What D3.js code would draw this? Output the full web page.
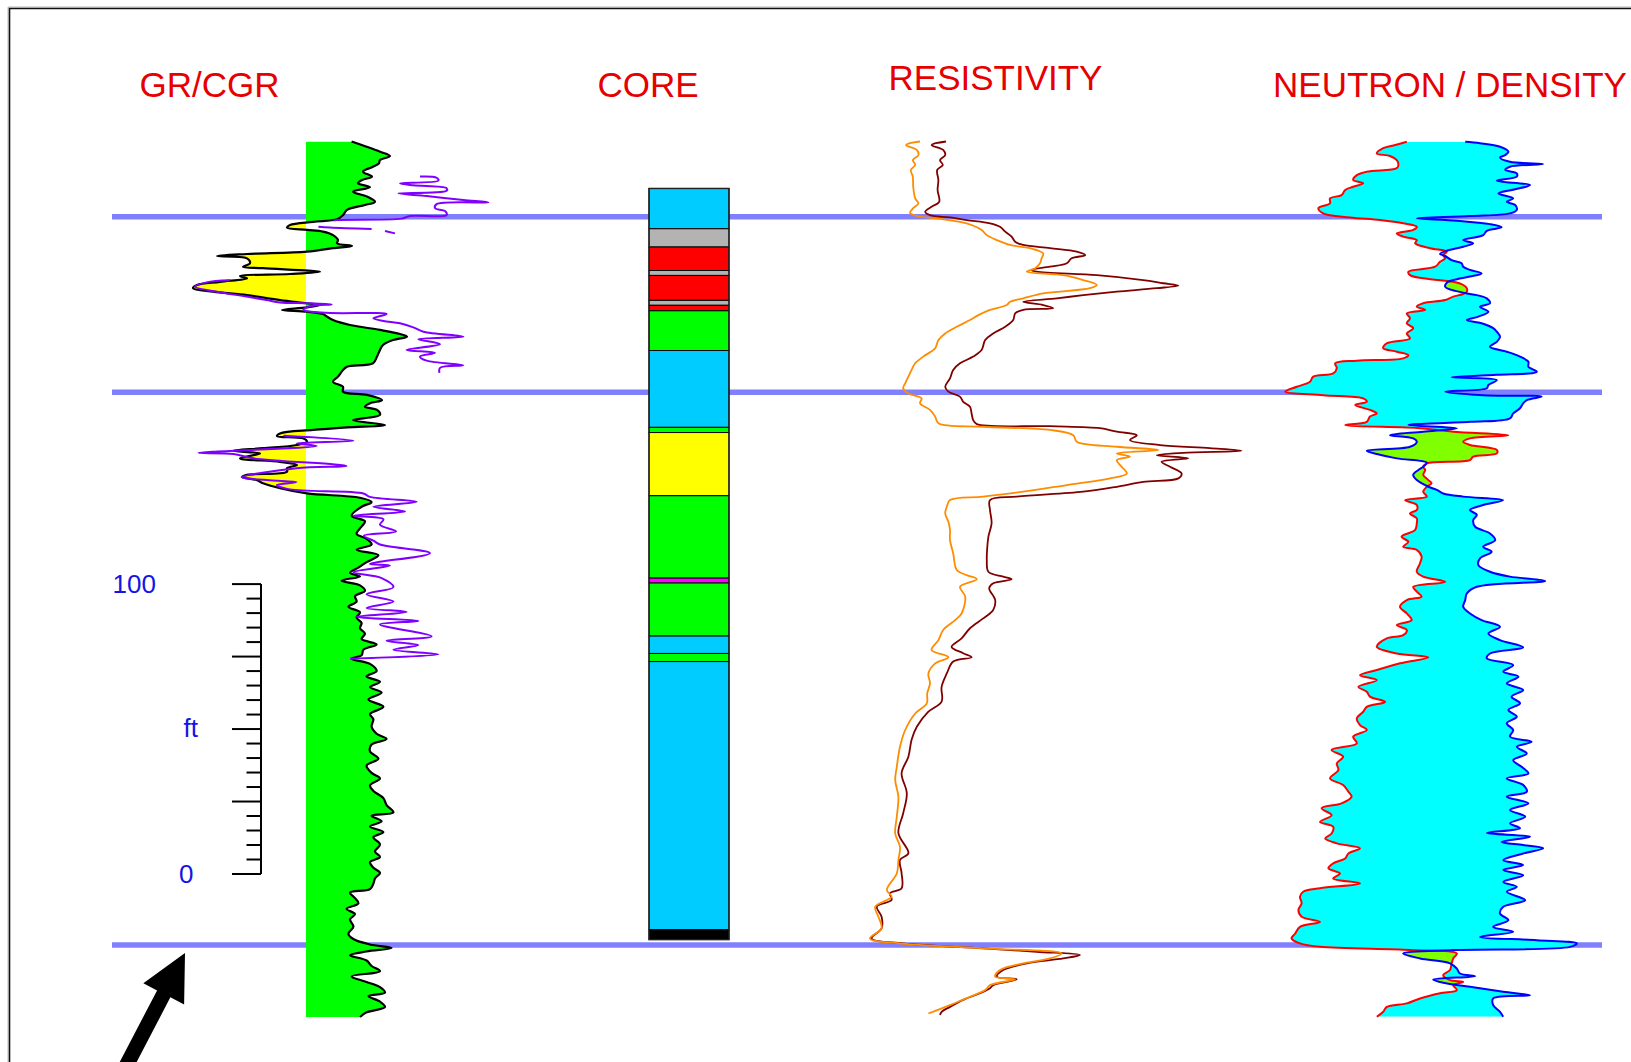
<!DOCTYPE html>
<html><head><meta charset="utf-8">
<script src="https://cdn.jsdelivr.net/npm/d3@7"></script>
<style>html,body{margin:0;padding:0;background:#fff}svg{display:block}</style>
</head><body>
<svg id="chart" width="1631" height="1062"></svg>
<script>
// ---------------- DATA ----------------
const trackTitles = ["GR/CGR", "CORE", "RESISTIVITY", "NEUTRON / DENSITY"];
const markerDepths = [26.0, 86.5, 277.2];          // ft, correlation markers
const grBaseline = 63;                              // API, shale baseline
const scaleBarLabels = ["0", "ft", "100"];

// GR (API) : [depth ft, value]
const gr = [[0,85.8],[1.8,93.3],[3.5,100],[5.0,105],[6.4,100],[7.5,99.5],[8.7,96.5],[10.4,91.5],[12.1,96],[13.3,91],[14.4,89],[15.8,95],[17.3,86.5],[19.0,93.5],[20.8,97.5],[21.9,92.5],[23.6,83.5],[25.4,81.5],[26.8,78.5],[27.7,66.5],[28.8,55],[29.7,53.5],[30.5,63.5],[31.1,71.5],[32.3,76.5],[34.0,79],[35.1,78.5],[36.0,86],[36.8,76.5],[38.0,63.5],[38.8,33.5],[39.5,18.5],[40.3,33.5],[42.0,35],[43.2,31.5],[43.7,41.5],[44.9,70],[45.7,55],[46.4,30],[47.2,33.5],[48.4,20],[49.5,8.5],[50.6,6.5],[51.8,16.5],[53.0,33.5],[54.7,50],[55.8,63.5],[56.4,70],[57.2,63.5],[58.1,51],[58.7,63.5],[59.5,71.5],[60.4,73.5],[61.6,76.5],[63.3,85],[65.0,100],[66.4,110],[67.3,113.5],[68.5,106.5],[70.2,101.5],[71.9,100],[74.2,98.5],[76.5,96.5],[77.7,83.5],[78.8,81.5],[81.1,79],[82.9,76.5],[84.6,81.5],[86.3,81.5],[87.4,93.5],[89.2,101],[90.3,95],[91.5,92.5],[92.6,98.5],[94.3,100],[96.1,86.5],[97.8,102.5],[98.6,83.5],[99.5,66.5],[100.7,50],[101.6,48.5],[102.4,61.5],[103.6,63.5],[104.7,58.5],[105.8,41.5],[106.7,26.5],[107.6,40],[109.3,30],[110.5,50],[111.6,58.5],[112.7,53.5],[113.9,53.5],[115.0,33.5],[115.8,31],[116.8,38.5],[117.9,41.5],[119.6,50],[121.4,63.5],[122.9,90],[124.4,95.8],[126.0,90.8],[129.1,85.8],[131.0,92.5],[132.8,90.8],[135.3,88.3],[137.1,93.3],[139.0,95.8],[140.8,88.3],[142.7,99.2],[145.1,93.3],[147.0,89.2],[148.8,85],[150.0,90],[151.5,80.8],[153.1,90],[155.0,92.5],[156.8,87.5],[158.7,88.3],[160.5,84.2],[162.4,90],[164.2,88.3],[166.1,90.8],[167.9,90],[169.8,92.5],[171.6,90.8],[173.5,98.3],[175.3,91.7],[177.2,90.8],[178.4,85.8],[180.2,95],[182.7,98.3],[184.5,93.3],[186.4,100],[188.2,95],[190.1,100.8],[192.5,94.2],[195.0,101.7],[197.5,95],[199.3,96.7],[201.8,95.8],[204.3,98.3],[206.1,103.3],[208.0,95.8],[210.4,95],[212.9,99.2],[215.3,93.3],[217.8,95.8],[219.7,100],[222.1,95],[224.0,96.7],[226.5,101.7],[228.9,103.3],[231.4,106.7],[232.6,95.8],[234.5,100.8],[236.3,95],[238.2,101.7],[240.0,96.7],[242.5,100],[244.9,97.5],[246.8,100],[248.6,95],[250.5,96.7],[252.3,100],[254.2,97.5],[256.0,96.7],[257.9,95],[259.1,85],[261.0,87.5],[262.8,89.2],[264.7,83.3],[266.5,87.5],[268.3,85],[270.8,86.7],[273.3,84.2],[275.1,86.7],[277.0,95],[278.2,105.8],[279.4,93.3],[280.7,85],[282.5,93.3],[284.4,95.8],[286.2,100],[288.0,85.8],[289.9,93.3],[291.7,100],[293.6,102.5],[294.8,94.2],[296.7,100],[298.5,102.5],[300.4,93.3],[302.0,90]];

// Core gamma (CGR, API) intervals
const cgrA = [[12.1,120],[12.5,128.3],[13.5,129.2],[14.4,110],[15.1,116.7],[16.1,133.3],[17.0,133.3],[17.9,109.2],[18.8,123.3],[20.2,141.7],[21.0,154.2],[21.6,128.3],[23.0,127.5],[24.0,132.5],[25.4,133.3],[25.7,115],[26.6,110.8],[27.1,78.3],[27.3,76.7]];
const cgrB = [[29.4,69.2],[29.7,75],[30.2,95.8]];
const cgrC = [[30.9,102.5],[31.7,107.5]];
const cgrD = [[47.9,25],[48.6,13.3],[50.1,7.5],[51.8,18.3],[53.5,33.3],[54.7,43.3],[55.5,50],[55.8,63.3],[56.2,75.8],[56.8,65],[58.1,61.7],[59.1,73.3],[59.5,103.3],[61.0,96.7],[61.9,101.7],[62.7,110],[64.1,116.7],[65.6,121.7],[67.3,141.7],[68.2,119.2],[69.9,130],[71.9,113.3],[72.9,127.5],[74.2,120],[75.6,123.3],[77.2,141.7],[78.1,130],[79.8,129.7]];
const cgrE = [[101.5,51.7],[103.2,86.7],[104.1,58.3],[105.0,68.3],[107.4,9.2],[107.8,26.7],[109.3,36.7],[111.9,83.3],[112.7,58.3],[115.8,30.8],[116.8,43.3],[117.5,58.3],[118.5,48.3],[120.0,55],[121.4,91.7],[122.6,95],[124.3,118.3],[126.0,96.7],[127.6,112.5],[129.1,86.7],[130.3,101.7],[132.2,100],[134.5,108],[136.0,92],[137.7,96.7],[139.0,100],[142.0,125],[145.7,95],[146.3,105],[148.6,86.7],[150.6,100.8],[153.7,106.7],[156.2,93.3],[158.7,106.7],[160.9,93.3],[162.3,113.3],[164.0,88.3],[165.4,119.2],[166.6,100],[170.7,125.8],[172.2,103.3],[173.7,119.2],[175.3,106.7],[176.9,129.2],[178.4,85]];

// Core description: [top ft, base ft, lithology]
const coreIntervals = [[16.2,30.1,"blue"],[30.1,36.4,"grey"],[36.4,44.5,"red"],[44.5,46.2,"grey"],[46.2,54.8,"red"],[54.8,56.5,"grey"],[56.5,58.4,"red"],[58.4,72.1,"green"],[72.1,98.6,"blue"],[98.6,100.4,"green"],[100.4,122.2,"yellow"],[122.2,150.6,"green"],[150.6,152.3,"magenta"],[152.3,170.6,"green"],[170.6,176.6,"blue"],[176.6,179.4,"green"],[179.4,271.9,"blue"],[271.9,275.3,"black"]];

// Resistivity (ohm-m)
const resDeep = [[0,24.0],[1.2,20.4],[2.9,23.3],[4.7,23.8],[6.4,22.5],[8.1,23.2],[9.8,21.8],[13.3,22.1],[16.7,21.9],[20.8,22.3],[22.5,20.4],[24.2,18.8],[25.4,20.0],[26.2,25.0],[27.1,29.2],[28.2,35.0],[29.4,37.5],[31.1,38.8],[32.8,40.4],[34.6,41.3],[35.7,43.3],[36.8,50.0],[38.0,56.7],[39.2,58.8],[40.3,55.4],[42.0,54.2],[43.2,50.0],[44.3,45.4],[44.9,46.7],[46.1,61.7],[47.8,73.3],[48.9,78.3],[49.7,82.1],[50.6,76.7],[51.8,66.7],[53.0,58.3],[54.1,51.7],[55.3,43.3],[56.4,48.3],[57.5,50.8],[58.1,43.3],[59.3,41.3],[61.6,40.8],[63.9,38.8],[66.2,35.8],[68.5,33.8],[71.9,32.9],[74.2,30.8],[76.5,27.5],[78.8,25.8],[81.7,25.0],[84.6,23.8],[86.3,24.6],[88.0,27.5],[89.8,28.3],[91.5,30.0],[93.8,30.4],[96.1,30.8],[97.5,31.7],[98.2,50.0],[98.9,62.5],[100.1,66.7],[101.3,71.7],[103.0,70.0],[104.7,77.5],[105.8,90.0],[106.7,97.9],[107.4,83.3],[108.2,76.7],[109.3,84.6],[110.5,77.9],[112.2,80.0],[114.5,82.9],[116.2,82.1],[117.4,73.3],[119.1,66.7],[120.8,58.3],[122.5,41.7],[123.7,35.0],[127.1,35.0],[131.7,35.4],[136.3,34.6],[140.3,34.3],[144.4,34.2],[148.4,34.6],[150.1,38.3],[151.0,40.4],[152.4,35.8],[154.1,34.8],[158.2,36.3],[161.6,35.8],[164.5,33.3],[167.9,30.0],[171.4,27.9],[174.3,25.4],[176.5,28.3],[177.9,30.4],[179.4,25.8],[183.5,24.2],[188.1,22.9],[193.2,22.9],[196.7,19.6],[201.9,16.7],[206.4,15.4],[212.2,14.6],[217.9,12.9],[224.8,14.2],[231.7,13.3],[238.6,12.1],[245.5,14.6],[247.8,12.5],[252.4,12.9],[257.6,12.9],[259.3,10.0],[261.6,10.4],[263.9,6.7],[267.4,7.9],[271.4,7.9],[274.9,5.4],[276.6,13.3],[278.3,33.3],[279.5,46.7],[280.6,57.5],[281.8,53.3],[283.5,44.2],[285.8,38.3],[288.1,36.7],[289.0,41.7],[291.0,35.8],[292.1,35.0],[293.8,32.5],[296.1,28.3],[298.5,25.0],[300.2,22.9],[301.3,22.5]];
const resShallow = [[0,17.5],[1.2,14.0],[2.9,16.7],[4.7,17.1],[6.4,15.7],[8.1,16.3],[9.8,15.2],[12.1,15.7],[15.6,15.8],[19.6,16.3],[21.3,17.1],[23.0,15.8],[24.6,15.0],[25.7,16.7],[26.5,21.7],[27.7,27.5],[28.8,30.4],[30.5,32.9],[32.3,34.2],[34.0,36.7],[35.7,40.0],[36.8,45.0],[38.6,48.3],[40.3,47.9],[42.0,47.5],[43.7,46.3],[44.9,44.2],[46.1,53.3],[47.8,58.3],[49.5,61.7],[50.6,60.0],[52.4,48.3],[54.1,43.3],[55.3,40.0],[56.4,39.2],[58.1,35.0],[59.9,32.1],[61.6,30.0],[63.9,26.7],[66.2,23.8],[68.5,22.1],[71.3,21.3],[74.2,18.3],[76.5,16.3],[78.8,15.4],[81.1,14.6],[83.4,13.8],[85.1,13.3],[86.9,14.6],[88.6,17.9],[90.3,17.5],[92.6,20.0],[94.9,21.3],[97.2,22.1],[98.4,33.3],[99.5,50.0],[101.3,55.8],[103.6,56.7],[105.3,66.7],[106.4,77.1],[107.6,66.7],[108.7,70.0],[109.9,66.7],[112.2,67.9],[114.5,69.2],[116.2,65.0],[118.5,54.2],[120.8,43.3],[122.5,33.3],[123.7,25.0],[126.0,24.2],[128.3,23.8],[131.2,24.6],[134.0,25.0],[137.5,25.0],[142.1,25.8],[147.8,26.7],[149.6,29.2],[151.0,31.7],[153.6,27.5],[157.0,28.8],[162.8,27.9],[165.1,26.3],[168.5,23.3],[172.0,22.1],[175.4,20.4],[177.9,24.6],[180.0,21.3],[183.5,19.6],[186.9,20.0],[190.4,19.3],[193.8,19.2],[197.3,16.3],[203.0,13.8],[208.8,12.5],[215.7,11.7],[220.3,11.3],[226.0,12.1],[232.9,11.7],[238.7,11.3],[243.3,12.5],[247.8,12.1],[252.5,11.7],[258.2,9.2],[260.5,10.4],[264.0,6.3],[267.4,7.1],[271.4,7.9],[274.9,5.0],[276.6,12.5],[278.3,33.3],[280.1,52.9],[281.8,50.0],[283.5,43.3],[285.8,37.5],[288.1,36.3],[289.0,41.3],[291.0,35.0],[292.7,33.8],[295.0,30.0],[297.9,25.0],[300.8,19.6]];

// Neutron / density (track units)
const neutron = [[0.1,44.2],[1.2,41.3],[2.3,38.3],[4.1,36.7],[5.0,40],[6.4,41.7],[8.1,42.1],[9.2,41.7],[10.4,34.2],[11.6,31.7],[13.3,30.8],[14.4,33.3],[15.6,30.8],[16.7,28.8],[18.5,27.9],[19.6,25],[21.3,25],[23.0,22.1],[24.8,23.3],[26.2,30],[27.1,37.5],[28.2,43.3],[29.4,46.7],[30.5,45.8],[31.7,41.7],[32.8,43.3],[34.0,46.7],[35.1,46.3],[36.8,50],[38.0,54.2],[39.2,53.3],[40.3,53.8],[41.5,52.5],[43.2,51.3],[44.9,44.6],[46.1,45],[47.2,48.3],[48.4,55.8],[49.5,58.3],[50.6,59.2],[51.8,59.2],[52.6,58.3],[53.5,55.8],[54.7,53.8],[55.8,48.3],[57.0,46.7],[58.1,48.8],[59.3,44.2],[61.0,45],[62.7,44.2],[64.4,45.8],[66.2,44.2],[67.9,45],[69.6,39.2],[71.3,38.3],[72.5,41.7],[73.7,44.6],[74.8,43.3],[75.6,31.7],[76.5,26.3],[78.2,26.7],[80.0,25.8],[81.1,20.8],[82.9,20],[84.6,16.7],[86.3,13.8],[87.5,23.3],[88.6,33.3],[89.8,34.2],[90.9,31.3],[92.6,35],[93.8,36.7],[94.9,35],[96.7,34.2],[97.8,28.8],[98.9,47.5],[100.1,55.8],[101.3,69.6],[102.4,60],[103.6,58.3],[104.7,60],[106.4,66.7],[107.6,66.7],[108.7,60.8],[109.9,60],[111.0,49.2],[112.2,48.3],[113.3,48.8],[115.0,48.3],[116.8,49.6],[117.9,50.4],[119.1,49.2],[120.8,48.3],[122.5,49.2],[123.7,43.8],[125.4,46.7],[127.1,46.7],[128.3,45],[130.0,46.7],[131.7,46.7],[134.0,46.3],[136.3,42.9],[138.1,44.6],[139.8,43.3],[140.9,46.7],[143.2,47.9],[145.5,47.5],[148.4,46.7],[150.1,48.3],[151.9,53.8],[153.6,45.8],[155.3,46.7],[157.0,47.9],[158.2,44.2],[160.5,42.5],[162.8,44.2],[165.1,45.4],[166.8,41.7],[168.5,44.2],[170.3,43.3],[171.4,39.2],[174.3,36.7],[176.6,41.7],[177.9,49.6],[180.0,42.5],[182.3,36.7],[184.1,32.5],[185.8,36.7],[188.1,32.1],[189.8,34.2],[191.5,35],[193.3,38.8],[195.0,34.2],[196.7,33.3],[199.0,31.7],[201.3,32.5],[203.0,34.2],[205.3,30.8],[207.6,31.7],[209.9,25.4],[212.2,28.3],[214.5,26.7],[216.8,27.1],[219.7,25],[222.0,28.3],[224.3,29.6],[226.0,30.4],[228.3,27.9],[230.0,22.9],[232.4,25.4],[234.7,22.5],[236.4,25.8],[238.7,25.4],[240.4,23.8],[242.1,26.7],[243.8,32.5],[245.6,29.6],[247.3,28.8],[249.0,25.8],[250.7,24.6],[252.5,27.5],[254.2,25.8],[255.9,32.5],[257.6,22.5],[258.8,18.3],[260.5,17.5],[262.8,17.9],[265.1,17.1],[267.4,17.9],[269.2,22.5],[270.9,17.5],[273.2,16.3],[274.9,15.4],[276.6,17.5],[277.8,22.5],[278.9,45],[280.1,56.7],[281.8,55.8],[283.5,55.4],[285.8,55],[287.6,53.3],[289.3,55],[289.9,58.3],[291.0,55.8],[292.7,56.7],[293.8,52.5],[295.6,47.5],[297.3,44.2],[298.5,39.2],[300.2,38.3],[301.9,36.7]];
const density = [[0.1,58.8],[0.6,62.5],[1.8,67.5],[3.5,69.6],[4.7,68.8],[5.5,67.5],[7.0,70],[7.8,78.3],[8.7,70],[9.8,68.8],[11.0,71.7],[12.1,71.7],[13.5,66.7],[15.0,75],[16.5,71.3],[17.9,67.1],[19.6,70.8],[20.8,69.2],[21.9,71.3],[23.6,71.7],[24.8,70],[25.7,60],[26.5,46.7],[27.3,56.7],[28.5,65],[29.6,67.9],[30.8,64.2],[32.3,63.3],[34.0,58.3],[35.1,60.8],[36.3,58.3],[37.7,54.2],[38.8,52.5],[39.5,53.8],[40.9,55.4],[42.0,57.9],[43.2,58.3],[44.3,60],[45.5,62.9],[46.6,60],[47.5,56.7],[48.7,54.2],[50.1,53.8],[51.2,55.4],[52.4,59.2],[53.0,61.7],[54.1,64.2],[55.8,65],[57.0,62.5],[58.7,64.6],[60.4,62.1],[61.6,59.2],[62.7,62.9],[64.4,65.8],[65.6,66.7],[67.3,67.5],[69.1,66.7],[70.8,65],[72.5,69.2],[74.2,72.5],[76.0,74.6],[77.7,74.6],[79.4,76.7],[80.5,66.7],[81.3,55.4],[82.3,66.7],[84.0,64.6],[85.1,64.2],[86.3,53.8],[87.5,63.3],[88.0,77.9],[89.2,74.2],[90.3,73.3],[92.0,72.5],[93.8,70.8],[95.5,70],[96.7,60],[97.8,44.6],[98.9,56.7],[100.1,48.3],[101.3,40],[102.4,45.8],[103.6,46.7],[105.3,45],[106.7,34.2],[107.8,36.7],[109.3,41.7],[110.8,49.2],[112.2,48.3],[113.3,47.1],[115.0,45.8],[116.8,46.7],[119.1,49.6],[120.2,51.7],[121.4,53.3],[122.5,58.3],[123.7,68.3],[125.4,63.3],[127.1,60],[128.8,61.7],[130.6,60.8],[132.9,61.3],[135.2,65],[137.5,66.3],[139.8,63.3],[141.5,65.4],[143.8,62.5],[146.1,62.1],[148.4,65],[150.1,70],[151.6,78.8],[153.6,61.7],[155.9,59.2],[158.2,58.8],[160.5,58.3],[162.8,60],[165.1,62.9],[167.4,67.5],[169.7,64.6],[172.0,67.5],[174.5,73.3],[176.6,65],[178.3,64.2],[180.6,70.8],[182.9,68.3],[184.6,72.1],[186.9,69.2],[189.2,73.3],[191.5,70.4],[193.8,72.5],[196.1,69.6],[198.4,71.7],[200.7,69.2],[203.0,70.8],[205.3,70],[207.1,75.4],[208.8,71.7],[211.1,74.2],[213.4,70.8],[215.7,72.9],[218.0,74.6],[219.7,69.2],[222.0,73.3],[224.3,74.2],[226.0,69.2],[228.3,74.6],[230.6,70],[232.9,73.8],[235.2,70],[236.9,72.5],[238.5,64.2],[239.8,75],[241.6,67.9],[242.7,73.3],[243.8,78.3],[245.6,73.3],[247.9,68.3],[249.6,73.3],[251.3,68.3],[253.1,73.3],[255.4,68.3],[257.1,71.7],[258.8,69.2],[261.7,73.8],[264.0,68.3],[266.3,67.5],[268.6,69.6],[270.9,65.8],[272.6,70.8],[274.4,62.5],[275.5,76.7],[276.6,86.7],[277.8,85],[278.9,55.8],[280.1,43.3],[281.8,47.5],[283.5,55],[285.3,56.7],[287.0,57.5],[287.9,61.3],[289.1,50.8],[290.2,53.3],[291.6,60],[293.3,68.3],[294.5,75],[295.6,65.8],[297.9,65.8],[300.2,67.5],[301.9,68.3]];

// ---------------- LAYOUT / STYLE ----------------
const lithColor = {blue:"#00ccff", grey:"#b3b3b3", red:"#ff0000", green:"#00ff00", yellow:"#ffff00", magenta:"#ff00ff", black:"#000000"};
const titleFont = "'Liberation Sans', Arial, Helvetica, sans-serif";

const svg = d3.select("#chart");
const y = d3.scaleLinear().domain([0, 302]).range([141.5, 1017]);
const xGR = d3.scaleLinear().domain([0, 150]).range([180, 480]);
const xRes = d3.scaleLinear().domain([0, 100]).range([850, 1250]);
const xND = d3.scaleLinear().domain([0, 100]).range([1230, 1630]);
const xCore = d3.scaleBand().domain(["core"]).range([649, 729]);
const smooth = d3.curveCatmullRom.alpha(0.5);

// frame
svg.append("path").attr("d", "M8,1100V7H1700").attr("fill","none").attr("stroke","#bbb").attr("stroke-width",1);
svg.append("path").attr("d", "M9.5,1100V8.5H1700").attr("fill","none").attr("stroke","#111").attr("stroke-width",1.6);

// correlation markers (under everything)
svg.append("g").selectAll("line").data(markerDepths).join("line")
  .attr("x1", 112).attr("x2", 1602)
  .attr("y1", d => y(d)).attr("y2", d => y(d))
  .attr("stroke", "#8080ff").attr("stroke-width", 5.5);

const defs = svg.append("defs");
function addClip(id, pathD){ defs.append("clipPath").attr("id", id).append("path").attr("d", pathD); }

// ---- GR track ----
const grLine = d3.line().curve(smooth).x(d => xGR(d[1])).y(d => y(d[0]));
addClip("grLeftOf", d3.area().curve(smooth).y(d => y(d[0])).x0(100).x1(d => xGR(d[1]))(gr));
addClip("grRightOf", d3.area().curve(smooth).y(d => y(d[0])).x0(d => xGR(d[1])).x1(560)(gr));
const yTop = y(0), yBot = y(302);
svg.append("rect").attr("x", xGR(grBaseline)).attr("y", yTop).attr("width", 560 - xGR(grBaseline)).attr("height", yBot - yTop)
  .attr("fill", "#00ff00").attr("clip-path", "url(#grLeftOf)");
svg.append("rect").attr("x", 100).attr("y", yTop).attr("width", xGR(grBaseline) - 100).attr("height", yBot - yTop)
  .attr("fill", "#ffff00").attr("clip-path", "url(#grRightOf)");
svg.append("path").attr("d", grLine(gr)).attr("fill","none").attr("stroke","#000").attr("stroke-width",2.2).attr("stroke-linejoin","round");
svg.append("g").selectAll("path").data([cgrA, cgrB, cgrC, cgrD, cgrE]).join("path")
  .attr("d", seg => grLine(seg)).attr("fill","none").attr("stroke","#8000ff").attr("stroke-width",2).attr("stroke-linejoin","round");

// ---- Core track ----
svg.append("g").selectAll("rect").data(coreIntervals).join("rect")
  .attr("x", xCore("core")).attr("width", xCore.bandwidth())
  .attr("y", d => y(d[0])).attr("height", d => y(d[1]) - y(d[0]))
  .attr("fill", d => lithColor[d[2]]).attr("stroke", "#000").attr("stroke-width", 1);
svg.append("rect").attr("x", xCore("core")).attr("width", xCore.bandwidth())
  .attr("y", y(coreIntervals[0][0])).attr("height", y(coreIntervals[coreIntervals.length-1][1]) - y(coreIntervals[0][0]))
  .attr("fill","none").attr("stroke","#222").attr("stroke-width",1.4);

// ---- Resistivity track ----
const resLine = d3.line().curve(smooth).x(d => xRes(d[1])).y(d => y(d[0]));
svg.append("path").attr("d", resLine(resDeep)).attr("fill","none").attr("stroke","#800000").attr("stroke-width",1.8);
svg.append("path").attr("d", resLine(resShallow)).attr("fill","none").attr("stroke","#ff8c00").attr("stroke-width",1.8);

// ---- Neutron / Density track ----
const ndLine = d3.line().curve(smooth).x(d => xND(d[1])).y(d => y(d[0]));
const leftOf = data => d3.area().curve(smooth).y(d => y(d[0])).x0(1190).x1(d => xND(d[1]))(data);
const rightOf = data => d3.area().curve(smooth).y(d => y(d[0])).x0(d => xND(d[1])).x1(1660)(data);
addClip("leftOfDen", leftOf(density));
addClip("leftOfNeu", leftOf(neutron));
svg.append("path").attr("d", rightOf(neutron)).attr("fill", "#00ffff").attr("clip-path", "url(#leftOfDen)");
svg.append("path").attr("d", rightOf(density)).attr("fill", "#80ff00").attr("clip-path", "url(#leftOfNeu)");
svg.append("path").attr("d", ndLine(neutron)).attr("fill","none").attr("stroke","#ff0000").attr("stroke-width",2).attr("stroke-linejoin","round");
svg.append("path").attr("d", ndLine(density)).attr("fill","none").attr("stroke","#0000ff").attr("stroke-width",2).attr("stroke-linejoin","round");

// ---- Titles ----
const titleX = [209.6, 648, 995.5, 1450];
const titleY = [96.7, 96.7, 90.3, 96.7];
svg.append("g").selectAll("text").data(trackTitles).join("text")
  .attr("x", (d,i) => titleX[i]).attr("y", (d,i) => titleY[i])
  .attr("text-anchor","middle").attr("font-family", titleFont).attr("font-size", 35)
  .attr("fill", "#e60000").text(d => d);

// ---- Depth scale bar (100 ft) ----
const barBase = y.invert(874), barTop = barBase - 100;
const barX = 261;
const sb = svg.append("g");
sb.append("line").attr("x1", barX).attr("x2", barX).attr("y1", y(barTop)).attr("y2", y(barBase)).attr("stroke","#000").attr("stroke-width",2);
sb.selectAll("line.t").data(d3.range(0, 101, 5)).join("line").attr("class","t")
  .attr("x1", d => d % 25 === 0 ? 232 : 246.5).attr("x2", barX)
  .attr("y1", d => y(barBase - d)).attr("y2", d => y(barBase - d))
  .attr("stroke","#000").attr("stroke-width",2);
const labelFont = {family: titleFont, size: 26, color: "#1414e6"};
sb.append("text").attr("x", 179).attr("y", y(barBase) + 9.2).text(scaleBarLabels[0]);
sb.append("text").attr("x", 183.5).attr("y", y(barBase - 50) + 7.5).text(scaleBarLabels[1]);
sb.append("text").attr("x", 156).attr("text-anchor","end").attr("y", y(barTop) + 9.2).text(scaleBarLabels[2]);
sb.selectAll("text").attr("font-family", labelFont.family).attr("font-size", labelFont.size).attr("fill", labelFont.color);

// ---- Arrow pointing at the lower marker ----
(function(){
  const tip = [185, y(markerDepths[2]) + 8];
  const dir = [0.4625, -0.8866], perp = [0.8866, 0.4625];
  const back = (t) => [tip[0] - dir[0]*t, tip[1] - dir[1]*t];
  const off = (p, s) => [p[0] + perp[0]*s, p[1] + perp[1]*s];
  const hb = back(46), end = back(160);
  const pts = [tip, off(hb, 23), off(hb, 7.5), off(end, 7.5), off(end, -7.5), off(hb, -7.5), off(hb, -23)];
  svg.append("path").attr("d", "M" + pts.map(p => p.join(",")).join("L") + "Z").attr("fill", "#000");
})();
</script>
</body></html>
